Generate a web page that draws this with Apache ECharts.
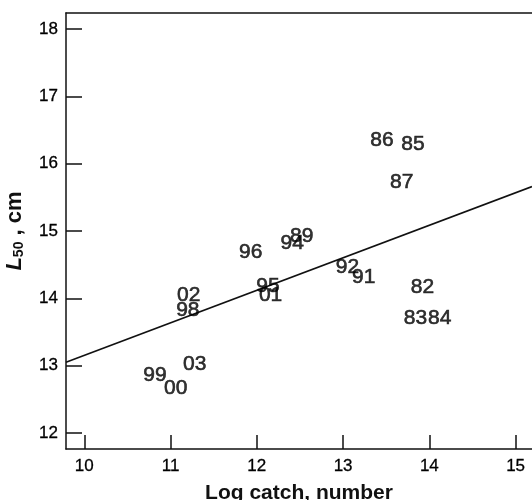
<!DOCTYPE html>
<html>
<head>
<meta charset="utf-8">
<script src="https://cdn.jsdelivr.net/npm/echarts@6/dist/echarts.min.js"></script>
<style>html,body{margin:0;padding:0;background:#fff}#c{width:532px;height:500px}</style>
</head>
<body>
<div id="c"></div>
<script>
var years    = ['86','85','87','96','94','89','92','91','95','01','82','83','84','02','98','99','00','03'];
var logCatch = [13.45,13.81,13.68,11.93,12.41,12.52,13.05,13.24,12.13,12.16,13.92,13.84,14.12,11.21,11.20,10.82,11.06,11.28];
var l50      = [16.35,16.29,15.73,14.69,14.82,14.93,14.47,14.31,14.18,14.04,14.17,13.70,13.70,14.05,13.83,12.86,12.66,13.02];
var fitX     = [9.788, 15.19];
var fitY     = [13.05, 15.66];
var xTicks   = [10, 11, 12, 13, 14, 15];
var yTicks   = [12, 13, 14, 15, 16, 17, 18];

var pts = logCatch.map(function (x, i) { return [x, l50[i], years[i]]; });
var fit = fitX.map(function (x, i) { return [x, fitY[i]]; });
var FONT = '"Liberation Sans", Arial, sans-serif';
var INK = '#000';

var chart = echarts.init(document.getElementById('c'), null, {renderer: 'canvas'});
chart.setOption({
  animation: false,
  backgroundColor: '#fff',
  grid: {left: 66, top: 13, right: 0, bottom: 51, containLabel: false, outerBoundsMode: 'none'},
  xAxis: [{
    type: 'value', min: 9.788, max: 15.19, position: 'bottom',
    name: 'Log catch, number', nameLocation: 'middle', nameGap: 34,
    nameTextStyle: {fontFamily: FONT, fontSize: 21, fontWeight: 'bold', color: '#111'},
    axisLine: {show: true, onZero: false, lineStyle: {color: '#111', width: 1.5}},
    axisTick: {show: true, inside: true, length: 14, customValues: xTicks, lineStyle: {color: '#111', width: 1.5}},
    axisLabel: {show: true, customValues: xTicks, margin: 9, fontFamily: FONT, fontSize: 17, color: INK,
      textBorderColor: INK, textBorderWidth: 0.3},
    splitLine: {show: false}
  }, {
    type: 'value', min: 9.788, max: 15.19, position: 'top',
    axisLine: {show: true, onZero: false, lineStyle: {color: '#111', width: 1.5}},
    axisTick: {show: false}, axisLabel: {show: false}, splitLine: {show: false}
  }],
  yAxis: {
    type: 'value', min: 11.764, max: 18.236,
    name: '{i|L}{s|50}{b| , cm}', nameLocation: 'middle', nameGap: 40, nameRotate: 90,
    nameTextStyle: {
      fontFamily: FONT, color: '#111',
      rich: {
        i: {fontFamily: FONT, fontSize: 22, fontWeight: 'bold', fontStyle: 'italic', color: '#111'},
        s: {fontFamily: FONT, fontSize: 14, fontWeight: 'bold', color: '#111', verticalAlign: 'bottom', padding: [7, 0, 0, 0]},
        b: {fontFamily: FONT, fontSize: 22, fontWeight: 'bold', color: '#111'}
      }
    },
    axisLine: {show: true, onZero: false, lineStyle: {color: '#111', width: 1.5}},
    axisTick: {show: true, inside: true, length: 16, customValues: yTicks, lineStyle: {color: '#111', width: 1.5}},
    axisLabel: {show: true, customValues: yTicks, margin: 8, fontFamily: FONT, fontSize: 17, color: INK,
      textBorderColor: INK, textBorderWidth: 0.3},
    splitLine: {show: false}
  },
  series: [{
    type: 'line', data: fit, showSymbol: false, symbol: 'none',
    lineStyle: {color: '#111', width: 1.6}, silent: true, z: 2
  }, {
    type: 'scatter', data: pts, symbolSize: 1,
    itemStyle: {color: 'rgba(0,0,0,0)'},
    label: {
      show: true, position: 'inside', formatter: function (p) { return p.data[2]; },
      fontFamily: FONT, fontSize: 21, color: INK,
      textBorderColor: INK, textBorderWidth: 0.6
    },
    labelLayout: {hideOverlap: false}, z: 3
  }]
});
</script>
</body>
</html>
